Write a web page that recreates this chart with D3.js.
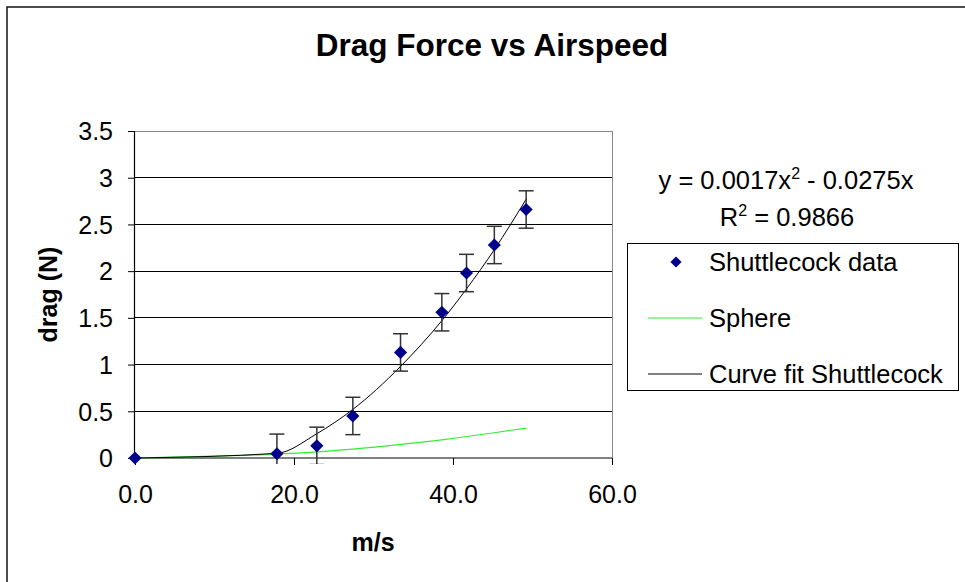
<!DOCTYPE html>
<html>
<head>
<meta charset="utf-8">
<script src="https://cdn.jsdelivr.net/npm/d3@7"></script>
<style>
  body { margin: 0; background: #fff; }
  svg { display: block; font-family: "Liberation Sans", Arial, sans-serif; }
</style>
</head>
<body>
<div id="chart"></div>
<script>
// Data
const speeds = [0, 17.85, 22.87, 27.4, 33.4, 38.6, 41.7, 45.2, 49.2];
const dragData = [0, 0.046, 0.13, 0.45, 1.13, 1.56, 1.98, 2.28, 2.66];
const dragError = [0, 0.21, 0.2, 0.2, 0.2, 0.2, 0.2, 0.2, 0.2];
const sphereDrag = [0, 0.042, 0.065, 0.095, 0.145, 0.195, 0.23, 0.27, 0.32];
const curveFit = [0, 0.05, 0.26, 0.52, 0.98, 1.47, 1.81, 2.23, 2.77];
const xTicks = [0, 20, 40, 60];
const yTicks = [0, 0.5, 1, 1.5, 2, 2.5, 3, 3.5];
const legendLabels = ["Shuttlecock data", "Sphere", "Curve fit Shuttlecock"];

const W = 965, H = 582;
const plot = { left: 135, right: 612, top: 131, bottom: 458 };
const navy = "#00008b";
const green = "#33ee33";

const svg = d3.select('#chart').append('svg')
  .attr('width', W)
  .attr('height', H);

// chart frame
svg.append('rect')
  .attr('x', 7).attr('y', 7)
  .attr('width', 975).attr('height', 600)
  .attr('fill', '#fff')
  .attr('stroke', '#111')
  .attr('stroke-width', 1.5);

const x = d3.scaleLinear().domain([0, 60]).range([plot.left, plot.right]);
const y = d3.scaleLinear().domain([0, 3.5]).range([plot.bottom, plot.top]);

// gridlines
svg.append('g')
  .selectAll('line')
  .data(yTicks.filter(t => t > 0 && t < 3.5))
  .join('line')
  .attr('x1', plot.left).attr('x2', plot.right)
  .attr('y1', d => y(d)).attr('y2', d => y(d))
  .attr('stroke', '#000').attr('stroke-width', 1)
  .attr('shape-rendering', 'crispEdges');

// plot area border (top, right) in grey
svg.append('path')
  .attr('d', `M${plot.left},${y(3.5)}H${plot.right}V${plot.bottom}`)
  .attr('fill', 'none')
  .attr('stroke', '#888')
  .attr('stroke-width', 1)
  .attr('shape-rendering', 'crispEdges');

// axes
const xAxis = svg.append('g')
  .attr('transform', `translate(0,${plot.bottom})`)
  .call(d3.axisBottom(x).tickValues(xTicks).tickSize(7).tickPadding(20).tickFormat(d3.format('.1f')));
const yAxis = svg.append('g')
  .attr('transform', `translate(${plot.left},0)`)
  .call(d3.axisLeft(y).tickValues(yTicks).tickSize(7).tickPadding(15).tickFormat(d => d));

[xAxis, yAxis].forEach(a => {
  a.select('.domain').attr('stroke', '#000').attr('stroke-width', 1.2);
  a.selectAll('.tick line').attr('stroke', '#000');
  a.selectAll('.tick text')
    .attr('fill', '#000')
    .style('font-size', '25px')
    .style('font-family', '"Liberation Sans", Arial, sans-serif');
});
yAxis.selectAll('.tick text').attr('dy', '0.35em');
yAxis.select('.domain').attr('d', `M-0.5,${y(3.5)}V${plot.bottom}`);
xAxis.select('.domain').attr('d', `M${plot.left},0H${plot.right}`);

// clip just below the axis for error bars
svg.append('clipPath').attr('id', 'clip')
  .append('rect')
  .attr('x', plot.left - 10).attr('y', plot.top - 10)
  .attr('width', plot.right - plot.left + 20)
  .attr('height', plot.bottom - plot.top + 16);

const points = speeds.map((s, i) => ({ s, v: dragData[i], e: dragError[i] }));

// sphere line
const line = d3.line().curve(d3.curveMonotoneX);
svg.append('path')
  .attr('d', line(speeds.map((s, i) => [x(s), y(sphereDrag[i])])))
  .attr('fill', 'none')
  .attr('stroke', green)
  .attr('stroke-width', 1.2);

// curve fit line
svg.append('path')
  .attr('d', line(speeds.map((s, i) => [x(s), y(curveFit[i])])))
  .attr('fill', 'none')
  .attr('stroke', '#000')
  .attr('stroke-width', 1);

// error bars
const eb = svg.append('g').attr('clip-path', 'url(#clip)')
  .selectAll('g')
  .data(points.filter(p => p.e > 0))
  .join('g')
  .attr('stroke', '#333')
  .attr('stroke-width', 1.5);
eb.append('line')
  .attr('x1', d => x(d.s)).attr('x2', d => x(d.s))
  .attr('y1', d => y(d.v + d.e)).attr('y2', d => y(d.v - d.e));
eb.append('line')
  .attr('x1', d => x(d.s) - 7.5).attr('x2', d => x(d.s) + 7.5)
  .attr('y1', d => y(d.v + d.e)).attr('y2', d => y(d.v + d.e));
eb.append('line')
  .attr('x1', d => x(d.s) - 7.5).attr('x2', d => x(d.s) + 7.5)
  .attr('y1', d => y(d.v - d.e)).attr('y2', d => y(d.v - d.e));

// markers
const diamond = d3.symbol().type(d3.symbolDiamond2).size(110);
svg.append('g')
  .selectAll('path')
  .data(points)
  .join('path')
  .attr('d', diamond)
  .attr('transform', d => `translate(${x(d.s)},${y(d.v)})`)
  .attr('fill', navy);

// title and axis titles
svg.append('text')
  .attr('x', 492).attr('y', 56)
  .attr('text-anchor', 'middle')
  .style('font-size', '31.5px').style('font-weight', 'bold')
  .text('Drag Force vs Airspeed');
svg.append('text')
  .attr('x', 373).attr('y', 551)
  .attr('text-anchor', 'middle')
  .style('font-size', '25px').style('font-weight', 'bold')
  .text('m/s');
svg.append('text')
  .attr('transform', `translate(57,${(plot.top + plot.bottom) / 2}) rotate(-90)`)
  .attr('text-anchor', 'middle')
  .style('font-size', '25px').style('font-weight', 'bold')
  .text('drag (N)');

// trendline equation
const eq = svg.append('text')
  .attr('x', 786).attr('y', 189)
  .attr('text-anchor', 'middle')
  .style('font-size', '25.5px');
eq.append('tspan').text('y = 0.0017x');
eq.append('tspan').attr('dy', -10).style('font-size', '16px').text('2');
eq.append('tspan').attr('dy', 10).text(' - 0.0275x');
const r2 = svg.append('text')
  .attr('x', 787).attr('y', 226)
  .attr('text-anchor', 'middle')
  .style('font-size', '25.5px');
r2.append('tspan').text('R');
r2.append('tspan').attr('dy', -10).style('font-size', '16px').text('2');
r2.append('tspan').attr('dy', 10).text(' = 0.9866');

// legend
const legend = svg.append('g');
legend.append('rect')
  .attr('x', 627.5).attr('y', 243.5)
  .attr('width', 331).attr('height', 147)
  .attr('fill', '#fff').attr('stroke', '#000').attr('stroke-width', 1);
const rowsY = [262, 318, 374];
legend.selectAll('text')
  .data(legendLabels)
  .join('text')
  .attr('x', 709)
  .attr('y', (d, i) => rowsY[i])
  .attr('dy', '0.35em')
  .style('font-size', '25.5px')
  .text(d => d);
legend.append('path')
  .attr('d', d3.symbol().type(d3.symbolDiamond2).size(80))
  .attr('transform', `translate(676,${rowsY[0]})`)
  .attr('fill', navy);
legend.append('line')
  .attr('x1', 648).attr('x2', 702)
  .attr('y1', rowsY[1]).attr('y2', rowsY[1])
  .attr('stroke', green).attr('stroke-width', 1.2);
legend.append('line')
  .attr('x1', 648).attr('x2', 702)
  .attr('y1', rowsY[2]).attr('y2', rowsY[2])
  .attr('stroke', '#000').attr('stroke-width', 1);
</script>
</body>
</html>
